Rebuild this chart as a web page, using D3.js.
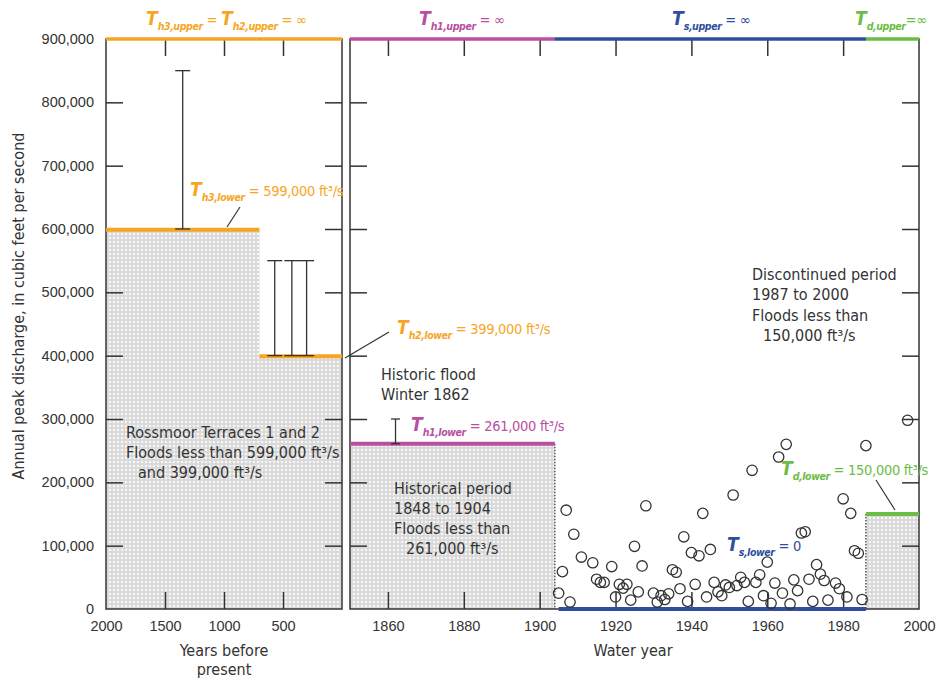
<!DOCTYPE html>
<html>
<head>
<meta charset="utf-8">
<script src="https://cdn.jsdelivr.net/npm/d3@7"></script>
<style>
body { margin: 0; background: #fff; }
svg { font-family: 'Liberation Sans Narrow', 'DejaVu Sans Condensed', 'Arial Narrow', sans-serif; }
.tick-label text { fill: #333; font-size: 14.5px; }
.note { fill: #333; font-size: 16px; }
</style>
</head>
<body>
<svg width="937" height="683"></svg>
<script>
var svg = d3.select('svg');

// ---- data ----
var yTicks = [0, 100000, 200000, 300000, 400000, 500000, 600000, 700000, 800000, 900000];
var bpTicks = [2000, 1500, 1000, 500];
var wyTicks = [1860, 1880, 1900, 1920, 1940, 1960, 1980, 2000];

// perception thresholds, paleo period (years before present)
var bpStart = [2000, 700];
var bpEnd = [700, 0];
var bpLower = [599000, 399000];

// perception thresholds, historical / systematic / discontinued (water year)
var wyStart = [1850, 1904, 1986];
var wyEnd = [1904, 1986, 2000];
var wyLower = [261000, 0, 150000];

// paleoflood interval estimates
var paleoYears = [1350, 570, 425, 300];
var paleoLow = [600000, 400000, 400000, 400000];
var paleoHigh = [850000, 550000, 550000, 550000];

// historic flood, winter 1862
var histYears = [1862];
var histLow = [261000];
var histHigh = [300000];

// systematic annual peaks
var sysYears = [1905, 1906, 1907, 1908, 1909, 1911, 1914, 1915, 1916, 1917, 1919, 1920, 1921, 1922,
  1923, 1924, 1925, 1926, 1927, 1928, 1930, 1931, 1932, 1933, 1934, 1935, 1936, 1937, 1938, 1939,
  1940, 1941, 1942, 1943, 1944, 1945, 1946, 1947, 1948, 1949, 1950, 1951, 1952, 1953, 1954, 1955,
  1956, 1957, 1958, 1959, 1960, 1961, 1962, 1963, 1964, 1965, 1966, 1967, 1968, 1969, 1970, 1971,
  1972, 1973, 1974, 1975, 1976, 1978, 1979, 1980, 1981, 1982, 1983, 1984, 1985, 1986, 1997];
var sysPeaks = [25000, 59000, 156000, 11000, 118000, 82000, 73000, 47000, 42000, 42000, 67000, 19000,
  39000, 33000, 39000, 14000, 99000, 27000, 68000, 163000, 25000, 11000, 21000, 15000, 24000, 62000,
  58000, 32000, 114000, 12000, 89000, 39000, 84000, 151000, 19000, 94000, 42000, 27000, 21000, 38000,
  34000, 180000, 37000, 50000, 42000, 12000, 219000, 42000, 54000, 21000, 74000, 9000, 41000, 240000,
  25000, 260000, 8000, 46000, 29000, 120000, 122000, 47000, 12000, 70000, 55000, 45000, 14000, 41000,
  32000, 174000, 19000, 151000, 92000, 88000, 15000, 258000, 298000];

// ---- styles ----
var bpColors = ['#f6a623', '#f6a623'];
var wyColors = ['#b8509f', '#2f4e9c', '#6cbd45'];
var ink = '#333';

// ---- scales ----
var y = d3.scaleLinear().domain([0, 900000]).range([609, 39]);
var xBP = d3.scaleLinear().domain([2000, 0]).range([106, 342]);
var xWY = d3.scaleLinear().domain([1850, 2000]).range([350, 919]);
var tickLen = 17;

// light dotted fill
var defs = svg.append('defs');
var pat = defs.append('pattern').attr('id', 'dots')
  .attr('width', 4).attr('height', 4).attr('patternUnits', 'userSpaceOnUse');
pat.append('rect').attr('width', 4).attr('height', 4).attr('fill', '#d8d8d8');
pat.append('circle').attr('cx', 2).attr('cy', 2).attr('r', 1.3).attr('fill', '#f6f6f6');

// shaded "floods less than" areas
svg.selectAll('.bp-shade').data(bpStart).enter().append('rect')
  .attr('class', 'bp-shade')
  .attr('x', function (d, i) { return xBP(d); })
  .attr('width', function (d, i) { return xBP(bpEnd[i]) - xBP(d); })
  .attr('y', function (d, i) { return y(bpLower[i]); })
  .attr('height', function (d, i) { return y(0) - y(bpLower[i]); })
  .attr('fill', 'url(#dots)');

svg.selectAll('.wy-shade').data(wyStart).enter().append('rect')
  .attr('class', 'wy-shade')
  .attr('x', function (d) { return xWY(d); })
  .attr('width', function (d, i) { return xWY(wyEnd[i]) - xWY(d); })
  .attr('y', function (d, i) { return y(wyLower[i]); })
  .attr('height', function (d, i) { return y(0) - y(wyLower[i]); })
  .attr('fill', 'url(#dots)');

// dotted edges where shading meets the systematic record
[wyEnd[0], wyStart[2]].forEach(function (yr, k) {
  svg.append('line')
    .attr('x1', xWY(yr)).attr('x2', xWY(yr))
    .attr('y1', y(k === 0 ? wyLower[0] : wyLower[2])).attr('y2', y(0))
    .attr('stroke', ink).attr('stroke-width', 1.2).attr('stroke-dasharray', '1.5,1.5');
});

// panel frames
function frame(x0, x1) {
  svg.append('rect')
    .attr('x', x0).attr('y', y(900000))
    .attr('width', x1 - x0).attr('height', y(0) - y(900000))
    .attr('fill', 'none').attr('stroke', ink).attr('stroke-width', 1.5);
}
frame(xBP(2000), xBP(0));
frame(xWY(1850), xWY(2000));

// inward tick marks on every side
function innerTicks(x0, x1, xs, xVals) {
  var inner = yTicks.slice(1, -1);
  [[d3.axisRight(y), x0, 0], [d3.axisLeft(y), x1, 0],
   [d3.axisTop(xs), 0, y(0)], [d3.axisBottom(xs), 0, y(900000)]].forEach(function (a, i) {
    var ax = a[0].tickSize(tickLen).tickFormat('').tickValues(i < 2 ? inner : xVals);
    var g = svg.append('g').attr('transform', 'translate(' + [a[1], a[2]] + ')').call(ax);
    g.select('.domain').remove();
    g.selectAll('line').attr('stroke', ink).attr('stroke-width', 1.5);
  });
}
innerTicks(xBP(2000), xBP(0), xBP, bpTicks.slice(1));
innerTicks(xWY(1850), xWY(2000), xWY, wyTicks.slice(0, -1));

// tick labels
var yLab = svg.append('g').attr('class', 'tick-label')
  .attr('transform', 'translate(' + [xBP(2000), 0] + ')')
  .call(d3.axisLeft(y).tickValues(yTicks).tickSize(0).tickPadding(12).tickFormat(d3.format(',')));
var bpLab = svg.append('g').attr('class', 'tick-label')
  .attr('transform', 'translate(' + [0, y(0)] + ')')
  .call(d3.axisBottom(xBP).tickValues(bpTicks).tickSize(0).tickPadding(12).tickFormat(d3.format('d')));
var wyLab = svg.append('g').attr('class', 'tick-label')
  .attr('transform', 'translate(' + [0, y(0)] + ')')
  .call(d3.axisBottom(xWY).tickValues(wyTicks).tickSize(0).tickPadding(12).tickFormat(d3.format('d')));
[yLab, bpLab, wyLab].forEach(function (g) {
  g.select('.domain').remove();
  g.selectAll('text').attr('font-family', null);
});

// threshold lines: upper bounds (infinite) along the top, lower bounds at their level
svg.selectAll('.bp-upper').data(bpStart).enter().append('line')
  .attr('x1', function (d) { return xBP(d); })
  .attr('x2', function (d, i) { return xBP(bpEnd[i]); })
  .attr('y1', y(900000)).attr('y2', y(900000))
  .attr('stroke', function (d, i) { return bpColors[i]; }).attr('stroke-width', 3.5);
svg.selectAll('.bp-lower').data(bpStart).enter().append('line')
  .attr('x1', function (d) { return xBP(d); })
  .attr('x2', function (d, i) { return xBP(bpEnd[i]); })
  .attr('y1', function (d, i) { return y(bpLower[i]); })
  .attr('y2', function (d, i) { return y(bpLower[i]); })
  .attr('stroke', function (d, i) { return bpColors[i]; }).attr('stroke-width', 4);
svg.selectAll('.wy-upper').data(wyStart).enter().append('line')
  .attr('x1', function (d) { return xWY(d); })
  .attr('x2', function (d, i) { return xWY(wyEnd[i]); })
  .attr('y1', y(900000)).attr('y2', y(900000))
  .attr('stroke', function (d, i) { return wyColors[i]; }).attr('stroke-width', 3.5);
svg.selectAll('.wy-lower').data(wyStart).enter().append('line')
  .attr('x1', function (d, i) { return xWY(i === 1 ? d + 1 : d); })
  .attr('x2', function (d, i) { return xWY(wyEnd[i]); })
  .attr('y1', function (d, i) { return y(wyLower[i]); })
  .attr('y2', function (d, i) { return y(wyLower[i]); })
  .attr('stroke', function (d, i) { return wyColors[i]; }).attr('stroke-width', 4);

// interval (range) bars
function rangeBars(xs, yrs, lo, hi, cap) {
  yrs.forEach(function (yr, i) {
    var g = svg.append('g').attr('stroke', ink).attr('stroke-width', 1.3);
    g.append('line').attr('x1', xs(yr)).attr('x2', xs(yr)).attr('y1', y(lo[i])).attr('y2', y(hi[i]));
    [lo[i], hi[i]].forEach(function (v) {
      g.append('line').attr('x1', xs(yr) - cap / 2).attr('x2', xs(yr) + cap / 2)
        .attr('y1', y(v)).attr('y2', y(v));
    });
  });
}
rangeBars(xBP, paleoYears, paleoLow, paleoHigh, 15);
rangeBars(xWY, histYears, histLow, histHigh, 9);

// systematic peaks
svg.selectAll('.peak').data(sysYears).enter().append('circle')
  .attr('class', 'peak')
  .attr('cx', function (d) { return xWY(d); })
  .attr('cy', function (d, i) { return y(sysPeaks[i]); })
  .attr('r', 5.2)
  .attr('fill', 'none').attr('stroke', ink).attr('stroke-width', 1.3);

// ---- labels ----
function richText(x, yy, parts, color) {
  var t = svg.append('text').attr('x', x).attr('y', yy).attr('fill', color)
    .style('white-space', 'pre');
  var shift = 0;
  parts.forEach(function (p) {
    var target = p[1] === 'sub' ? 5 : 0;
    var s = t.append('tspan').text(p[0]).attr('dy', target - shift);
    shift = target;
    if (p[1] === 'T') s.attr('font-size', 19).attr('font-style', 'italic').attr('font-weight', 'bold');
    else if (p[1] === 'sub') s.attr('font-size', 10.5).attr('font-style', 'italic')
      .attr('font-weight', 'bold').attr('letter-spacing', -0.4);
    else s.attr('font-size', 14.5).attr('letter-spacing', -0.3);
  });
  return t;
}

richText(146, 25, [['T', 'T'], ['h3,upper', 'sub'], [' = ', 'n'], ['T', 'T'], ['h2,upper', 'sub'], [' = ∞', 'n']], bpColors[0]);
richText(419, 25, [['T', 'T'], ['h1,upper', 'sub'], [' = ∞', 'n']], wyColors[0]);
richText(672, 25, [['T', 'T'], ['s,upper', 'sub'], [' = ∞', 'n']], wyColors[1]);
richText(855, 25, [['T', 'T'], ['d,upper', 'sub'], ['=∞', 'n']], wyColors[2]);

richText(190, 196, [['T', 'T'], ['h3,lower', 'sub'], [' = 599,000 ft³/s', 'n']], bpColors[0]);
richText(397, 334, [['T', 'T'], ['h2,lower', 'sub'], [' = 399,000 ft³/s', 'n']], bpColors[1]);
richText(411, 431, [['T', 'T'], ['h1,lower', 'sub'], [' = 261,000 ft³/s', 'n']], wyColors[0]);
richText(727, 551, [['T', 'T'], ['s,lower', 'sub'], [' = 0', 'n']], wyColors[1]);
richText(781, 475, [['T', 'T'], ['d,lower', 'sub'], [' = 150,000 ft³/s', 'n']], wyColors[2]);

// leader lines
[[240, 207, 227, 227], [389, 332, 345, 358], [876, 480, 895, 510]].forEach(function (l) {
  svg.append('line').attr('x1', l[0]).attr('y1', l[1]).attr('x2', l[2]).attr('y2', l[3])
    .attr('stroke', ink).attr('stroke-width', 1.2);
});

function note(lines) {
  lines.forEach(function (l) {
    svg.append('text').attr('class', 'note').attr('x', l[0]).attr('y', l[1]).text(l[2]);
  });
}
note([[381, 380, 'Historic flood'], [381, 400, 'Winter 1862']]);
note([[126, 438, 'Rossmoor Terraces 1 and 2'], [126, 458, 'Floods less than 599,000 ft³/s'],
      [138, 478, 'and 399,000 ft³/s']]);
note([[394, 494, 'Historical period'], [394, 514, '1848 to 1904'], [394, 534, 'Floods less than'],
      [406, 554, '261,000 ft³/s']]);
note([[752, 280, 'Discontinued period'], [752, 300, '1987 to 2000'], [752, 321, 'Floods less than'],
      [763, 341, '150,000 ft³/s']]);

// axis titles
svg.append('text').attr('class', 'note').attr('text-anchor', 'middle')
  .attr('x', 224).attr('y', 656).text('Years before');
svg.append('text').attr('class', 'note').attr('text-anchor', 'middle')
  .attr('x', 224).attr('y', 675).text('present');
svg.append('text').attr('class', 'note').attr('text-anchor', 'middle')
  .attr('x', 633).attr('y', 656).text('Water year');
svg.append('text').attr('class', 'note').attr('text-anchor', 'middle')
  .attr('transform', 'translate(24,306)rotate(-90)')
  .text('Annual peak discharge, in cubic feet per second');
</script>
</body>
</html>
